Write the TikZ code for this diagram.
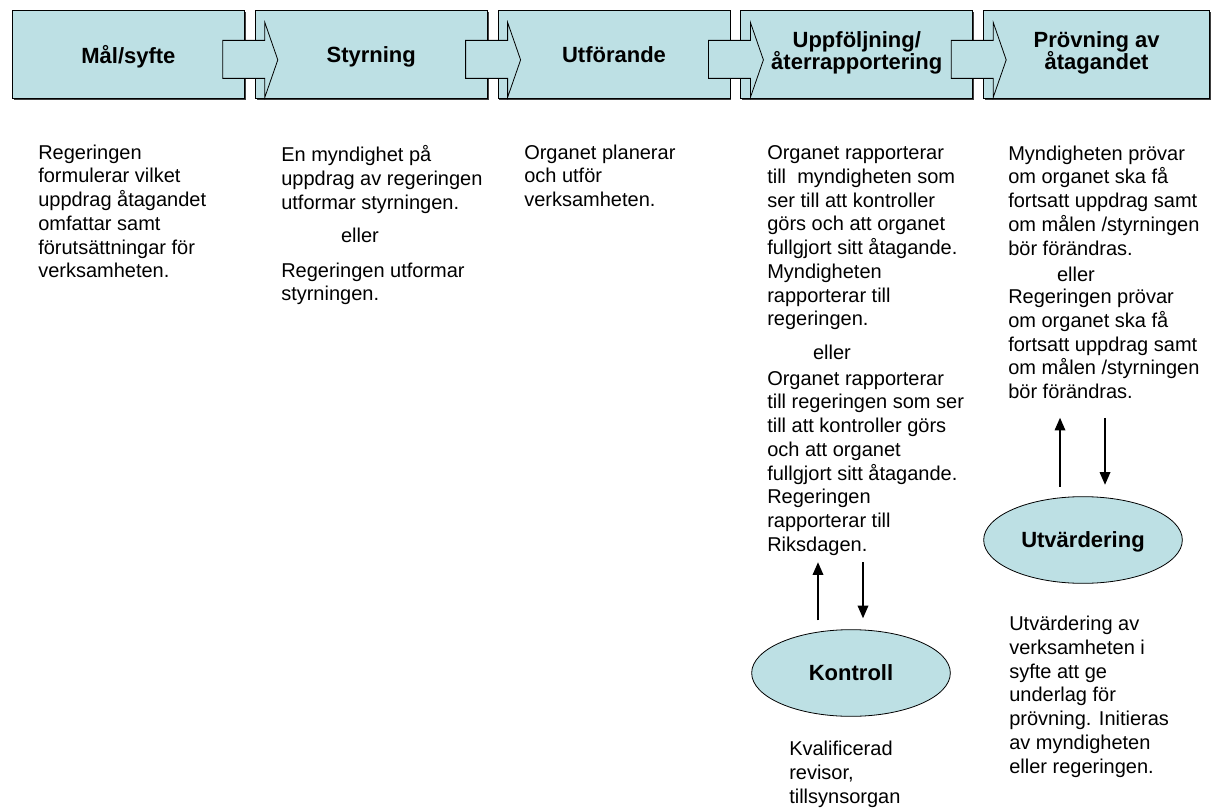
\documentclass[tikz,border=0pt]{standalone}
\usepackage{fontspec}
\setmainfont{Liberation Sans}
\usetikzlibrary{arrows.meta,positioning,calc,shadows,shapes.geometric}
\definecolor{ljusbla}{HTML}{BDE0E4}
\newcommand{\tattrad}{\lineskiplimit=-20pt\relax}
\tikzset{
  fas/.style={rectangle, draw=black, line width=0.6pt, fill=ljusbla, inner sep=0pt,
              minimum width=174pt, minimum height=66pt, align=center, text depth=0pt,
              font=\fontsize{16.5}{16.2}\selectfont\bfseries\tattrad,
              drop shadow={shadow xshift=1.1pt, shadow yshift=-1.1pt, fill=black!75, opacity=1}},
  moment/.style={ellipse, draw=black, line width=0.6pt, fill=ljusbla, inner sep=0pt,
                 minimum width=149pt, minimum height=65pt, text depth=0pt,
                 font=\fontsize{16.5}{16.5}\selectfont\bfseries},
  brodtext/.style={anchor=north west, align=left, inner sep=0pt,
                   font=\fontsize{15}{17.8}\selectfont\tattrad},
  eller/.style={anchor=base, inner sep=0pt, font=\fontsize{15}{17.8}\selectfont},
  blockpil/.style={draw=black, line width=0.6pt, fill=ljusbla},
  pil/.style={-{Triangle[length=9.5pt,width=8pt]}, line width=1pt},
}
\begin{document}
\begin{tikzpicture}[x=0.75pt, y=-0.75pt, node distance=7.5pt]
  \useasboundingbox (0,0) rectangle (1216,809);
  % faserna
  \node[fas, anchor=north west] (mal) at (12,10) {Mål/syfte};
  \node[fas, right=of mal] (styr) {Styrning};
  \node[fas, right=of styr] (utf) {Utförande};
  \node[fas, text depth=5.5pt, right=of utf] (uppf) {Uppföljning/\\återrapportering};
  \node[fas, text depth=5.5pt, minimum width=169.5pt, right=of uppf] (prov) {Prövning av\\åtagandet};
  \foreach \a/\b in {mal/styr, styr/utf, utf/uppf, uppf/prov}
    \draw[blockpil] ($(\a.east)+(-22,-14)$) -- ($(\b.west)+(10,-14)$) -- ($(\b.west)+(10,-32)$)
      -- ($(\b.west)+(23,5.5)$) -- ($(\b.west)+(10,43)$) -- ($(\b.west)+(10,24)$)
      -- ($(\a.east)+(-22,24)$) -- cycle;
  % texterna
  \node[brodtext] (t1) at (38,144.5) {Regeringen\\formulerar vilket\\uppdrag åtagandet\\omfattar samt\\förutsättningar för\\verksamheten.};
  \node[brodtext] (t2a) at (281,145.5) {En myndighet på\\uppdrag av regeringen\\utformar styrningen.};
  \node[eller] (e2) at (360,243) {eller};
  \node[brodtext] (t2b) at (281,262.5) {Regeringen utformar\\styrningen.};
  \node[brodtext] (t3) at (524,144.5) {Organet planerar\\och utför\\verksamheten.};
  \node[brodtext] (t4a) at (767,145.5) {Organet rapporterar\\till \ myndigheten som\\ser till att kontroller\\görs och att organet\\fullgjort sitt åtagande.\\Myndigheten\\rapporterar till\\regeringen.};
  \node[eller] (e4) at (832,359) {eller};
  \node[brodtext] (t4b) at (767,371) {Organet rapporterar\\till regeringen som ser\\till att kontroller görs\\och att organet\\fullgjort sitt åtagande.\\Regeringen\\rapporterar till\\Riksdagen.};
  \node[brodtext] (t5a) at (1008,145.5) {Myndigheten prövar\\om organet ska få\\fortsatt uppdrag samt\\om målen /styrningen\\bör förändras.};
  \node[eller] (e5) at (1076,281) {eller};
  \node[brodtext] (t5b) at (1008,289) {Regeringen prövar\\om organet ska få\\fortsatt uppdrag samt\\om målen /styrningen\\bör förändras.};
  % kontroll och utvärdering
  \node[moment] (kontroll) at (851,673) {Kontroll};
  \node[moment] (utv) at (1083,540) {Utvärdering};
  \draw[pil] ($(kontroll.north)+(-33,-9)$) -- ($(kontroll.north)+(-33,-67)$);
  \draw[pil] ($(kontroll.north)+(12,-67)$) -- ($(kontroll.north)+(12,-11)$);
  \draw[pil] ($(utv.north)+(-23,-9.5)$) -- ($(utv.north)+(-23,-78.5)$);
  \draw[pil] ($(utv.north)+(22,-78.5)$) -- ($(utv.north)+(22,-11.5)$);
  \node[brodtext] (t6) at (789,741) {Kvalificerad\\revisor,\\tillsynsorgan};
  \node[brodtext] (t7) at (1009,616) {Utvärdering av\\verksamheten i\\syfte att ge\\underlag för\\prövning. Initieras\\av myndigheten\\eller regeringen.};
\end{tikzpicture}
\end{document}
